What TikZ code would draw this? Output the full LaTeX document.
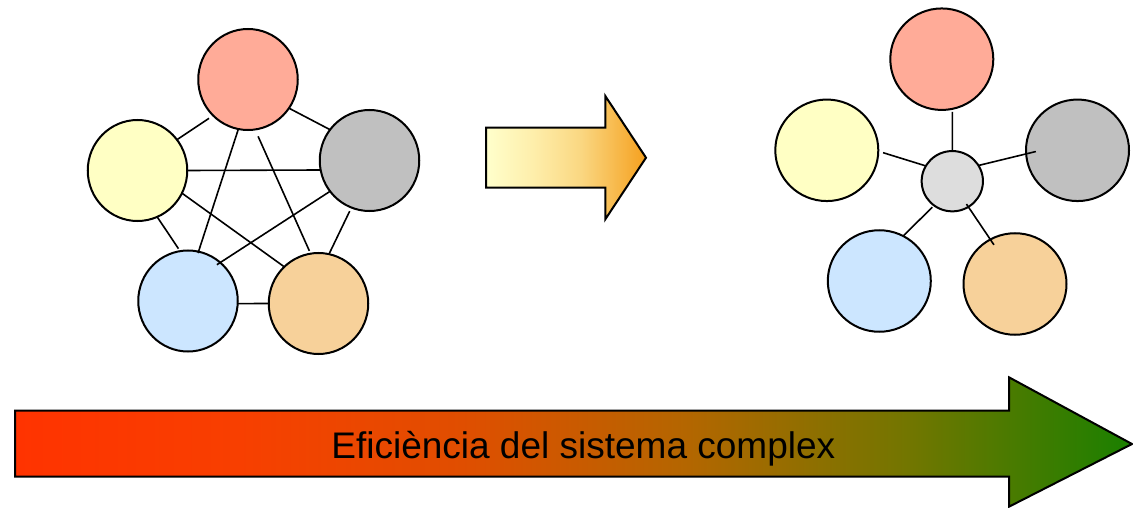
\documentclass[tikz,border=0pt]{standalone}
\usepackage{fontspec}
\newfontfamily\lbs[Ligatures=NoCommon]{Liberation Sans}
\usetikzlibrary{shapes.geometric}
\definecolor{cred}{HTML}{FFAB98}
\definecolor{cyel}{HTML}{FFFFC4}
\definecolor{cgry}{HTML}{C0C0C0}
\definecolor{cblu}{HTML}{CCE6FF}
\definecolor{corg}{HTML}{F7D19A}
\definecolor{chub}{HTML}{DDDDDD}
\definecolor{ea}{HTML}{FF3300}
\definecolor{eb}{HTML}{F83F00}
\definecolor{ec}{HTML}{E04E00}
\definecolor{ed}{HTML}{B46600}
\definecolor{ee}{HTML}{727600}
\definecolor{ef}{HTML}{1A8000}
\definecolor{ma}{HTML}{FFFFCC}
\definecolor{mb}{HTML}{FEEEAA}
\definecolor{mc}{HTML}{FAD680}
\definecolor{md}{HTML}{F5A01E}
\pgfdeclarehorizontalshading{effshade}{100bp}{color(0bp)=(ea); color(25bp)=(ea); color(35bp)=(eb); color(45bp)=(ec); color(55bp)=(ed); color(65bp)=(ee); color(75bp)=(ef); color(100bp)=(ef)}
\pgfdeclarehorizontalshading{midshade}{100bp}{color(0bp)=(ma); color(25bp)=(ma); color(40bp)=(mb); color(55bp)=(mc); color(75bp)=(md); color(100bp)=(md)}
\begin{document}
\begin{tikzpicture}[x=1pt,y=-1pt,
  lcirc/.style={ellipse, draw=black, line width=2pt, inner sep=0pt, outer sep=0pt, minimum width=99.5pt, minimum height=101pt},
  rcirc/.style={ellipse, draw=black, line width=2pt, inner sep=0pt, outer sep=0pt, minimum width=103pt, minimum height=101.5pt},
  hubc/.style={ellipse, draw=black, line width=2pt, inner sep=0pt, outer sep=0pt, minimum width=61.3pt, minimum height=60.3pt},
  link/.style={draw=black, line width=1.6pt},
  arrowbox/.style={draw=black, line width=2pt, line join=miter}]
\useasboundingbox (0,0) rectangle (1133,508);
% left graph
\node[lcirc, fill=cred] (lr) at (248,79.5) {};
\node[lcirc, fill=cyel] (ly) at (137.5,170.5) {};
\node[lcirc, fill=cgry] (lg) at (369.5,160.5) {};
\node[lcirc, fill=cblu] (lb) at (188,301) {};
\node[lcirc, fill=corg] (lo) at (318.5,303.5) {};
\draw[link, shorten >=5pt] (ly.38) -- (lr.226);
\draw[link] (lr.325) -- (lg.142);
\draw[link] (ly.0) -- (lg.191);
\draw[link, shorten >=-1.5pt] (lr.259) -- (lb.78);
\draw[link, shorten <=7.5pt, shorten >=3pt] (lr.278) -- (lo.99);
\draw[link, shorten >=3pt] (ly.293) -- (lb.99);
\draw[link] (ly.333) -- (lo.133);
\draw[link, shorten >=-4pt] (lg.218) -- (lb.50);
\draw[link, shorten <=4pt] (lg.249) -- (lo.78);
\draw[link] (lb.357) -- (lo.180);
% middle arrow
\draw[arrowbox, shading=midshade] (486,127.7) -- (605.3,127.7) -- (605.3,96) -- (646,157.7) -- (605.3,219.3) -- (605.3,187.7) -- (486,187.7) -- cycle;
% right star
\node[rcirc, fill=cred] (rr) at (941.8,59.2) {};
\node[rcirc, fill=cyel] (ry) at (826.8,150.3) {};
\node[rcirc, fill=cgry] (rg) at (1077.5,150.3) {};
\node[rcirc, fill=cblu] (rb) at (879.3,281) {};
\node[rcirc, fill=corg] (ro) at (1015,284) {};
\node[hubc, fill=chub] (hub) at (952.3,181.2) {};
\draw[link, shorten <=3pt] (rr.282) -- (hub.90);
\draw[link, shorten <=5pt] (ry.359) -- (hub.150);
\draw[link, shorten >=-10pt] (hub.31) -- (rg.184);
\draw[link, shorten >=2.5pt] (rb.62) -- (hub.233);
\draw[link, shorten <=-3.4pt, shorten >=-6.5pt] (hub.302) -- (ro.119);
% bottom arrow
\draw[arrowbox, shading=effshade] (15,410.7) -- (1009,410.7) -- (1009,377.3) -- (1132,444) -- (1009,506.7) -- (1009,476.7) -- (15,476.7) -- cycle;
\node[anchor=base, inner sep=0pt, font=\lbs\fontsize{37}{44}\selectfont] (lbl) at (583.3,458.3) {Eficiència del sistema complex};
\end{tikzpicture}
\end{document}
